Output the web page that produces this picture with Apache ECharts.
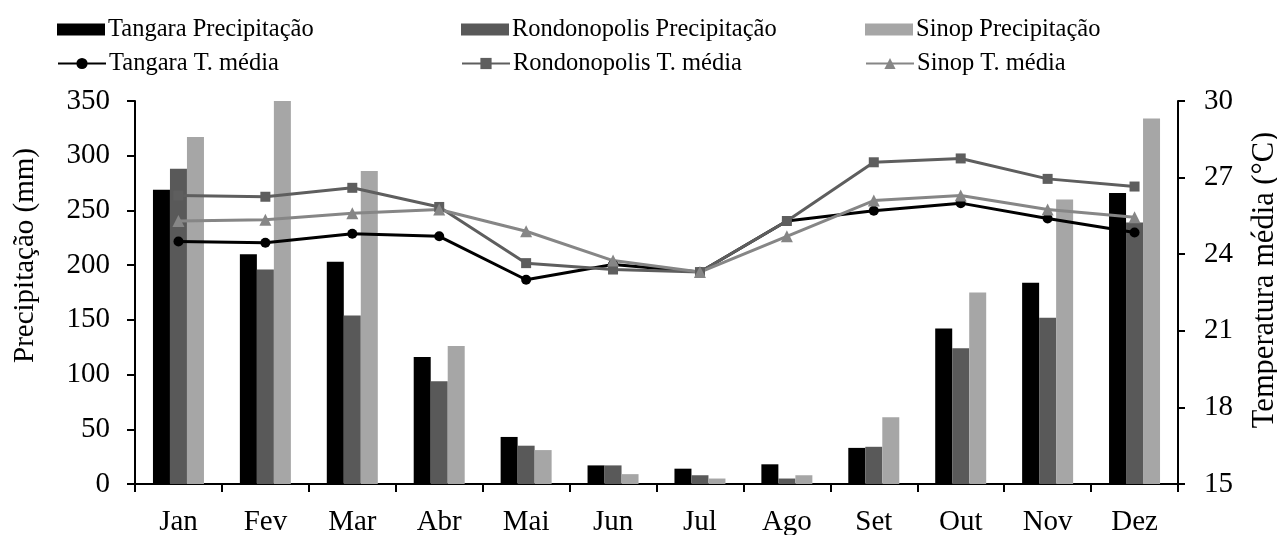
<!DOCTYPE html>
<html>
<head>
<meta charset="utf-8">
<script src="https://cdn.jsdelivr.net/npm/echarts@6/dist/echarts.min.js"></script>
<style>
  html, body { margin: 0; padding: 0; background: #fff; }
  #chart { width: 1277px; height: 535px; }
</style>
</head>
<body>
<div id="chart"></div>
<script>
// Monthly climate: rainfall (mm, bars) and mean temperature (°C, lines)
const months = ['Jan', 'Fev', 'Mar', 'Abr', 'Mai', 'Jun', 'Jul', 'Ago', 'Set', 'Out', 'Nov', 'Dez'];

const tangaraPrec = [269, 210, 203, 116, 43, 17, 14, 18, 33, 142, 184, 266];
const rondonopolisPrec = [288, 196, 154, 94, 35, 17, 8, 5, 34, 124, 152, 239];
const sinopPrec = [317, 350, 286, 126, 31, 9, 5, 8, 61, 175, 260, 334];

const tangaraTemp = [24.5, 24.45, 24.8, 24.7, 23.0, 23.6, 23.3, 25.3, 25.7, 26.0, 25.4, 24.85];
const rondonopolisTemp = [26.3, 26.25, 26.6, 25.85, 23.65, 23.4, 23.3, 25.3, 27.6, 27.75, 26.95, 26.65];
const sinopTemp = [25.3, 25.35, 25.6, 25.75, 24.9, 23.75, 23.3, 24.7, 26.1, 26.3, 25.75, 25.45];

const precTicks = { min: 0, max: 350, interval: 50 };
const tempTicks = { min: 15, max: 30, interval: 3 };

const FONT = 'Liberation Serif';
const C_BLACK = '#000000';
const C_DARK = '#595959';
const C_LIGHT = '#a6a6a6';
const C_LINE_DARK = '#5e5e5e';
const C_LINE_MID = '#868686';

const chart = echarts.init(document.getElementById('chart'), null, { renderer: 'canvas' });

function legendAt(name, left, top, isBar) {
  const lg = {
    data: [name],
    left: left,
    top: top,
    padding: 0,
    itemGap: 0,
    itemWidth: 48,
    itemHeight: isBar ? 12 : 14,
    selectedMode: false,
    textStyle: { fontFamily: FONT, fontSize: 24.5, color: '#000', padding: [0, 0, 0, -2] }
  };
  if (isBar) lg.icon = 'rect';
  return lg;
}

function barSeries(name, data, color) {
  return {
    name: name,
    type: 'bar',
    yAxisIndex: 0,
    data: data,
    barWidth: 17,
    barGap: '0%',
    itemStyle: { color: color },
    z: 2
  };
}

function lineSeries(name, data, color, symbol, size) {
  return {
    name: name,
    type: 'line',
    yAxisIndex: 1,
    data: data,
    symbol: symbol,
    symbolSize: size,
    lineStyle: { color: color, width: 3 },
    itemStyle: { color: color },
    z: 5
  };
}

const axisLineStyle = { show: true, lineStyle: { color: '#000', width: 2 } };

chart.setOption({
  animation: false,
  backgroundColor: '#fff',
  legend: [
    legendAt('Tangara Precipitação', 57, 17, true),
    legendAt('Rondonopolis Precipitação', 461, 17, true),
    legendAt('Sinop Precipitação', 865, 17, true),
    legendAt('Tangara T. média', 57, 51, false),
    legendAt('Rondonopolis T. média', 461, 51, false),
    legendAt('Sinop T. média', 865, 51, false)
  ],
  grid: { left: 135, right: 99, top: 101, bottom: 51, containLabel: false, outerBoundsMode: 'none' },
  xAxis: {
    type: 'category',
    data: months,
    axisLine: axisLineStyle,
    axisTick: { show: true, length: 8, lineStyle: { color: '#000', width: 2 } },
    axisLabel: { fontFamily: FONT, fontSize: 29, color: '#000', margin: 24 }
  },
  yAxis: [
    {
      type: 'value',
      min: precTicks.min,
      max: precTicks.max,
      interval: precTicks.interval,
      name: 'Precipitação (mm)',
      nameLocation: 'middle',
      nameGap: 95,
      nameTextStyle: { fontFamily: FONT, fontSize: 29, color: '#000', padding: [0, 0, 0, 74] },
      axisLine: axisLineStyle,
      axisTick: { show: true, length: 8, lineStyle: { color: '#000', width: 2 } },
      axisLabel: { fontFamily: FONT, fontSize: 29, color: '#000', margin: 25 },
      splitLine: { show: false }
    },
    {
      type: 'value',
      position: 'right',
      min: tempTicks.min,
      max: tempTicks.max,
      interval: tempTicks.interval,
      name: 'Temperatura média (°C)',
      nameLocation: 'middle',
      nameGap: 71,
      nameRotate: 90,
      nameTextStyle: { fontFamily: FONT, fontSize: 30.5, color: '#000', padding: [0, 0, 0, 25] },
      axisLine: axisLineStyle,
      axisTick: { show: true, length: 7, lineStyle: { color: '#000', width: 2 } },
      axisLabel: { fontFamily: FONT, fontSize: 29, color: '#000', margin: 26 },
      splitLine: { show: false }
    }
  ],
  series: [
    barSeries('Tangara Precipitação', tangaraPrec, C_BLACK),
    barSeries('Rondonopolis Precipitação', rondonopolisPrec, C_DARK),
    barSeries('Sinop Precipitação', sinopPrec, C_LIGHT),
    lineSeries('Tangara T. média', tangaraTemp, C_BLACK, 'circle', 10),
    lineSeries('Rondonopolis T. média', rondonopolisTemp, C_LINE_DARK, 'rect', 10),
    lineSeries('Sinop T. média', sinopTemp, C_LINE_MID, 'triangle', 12)
  ]
});
</script>
</body>
</html>
